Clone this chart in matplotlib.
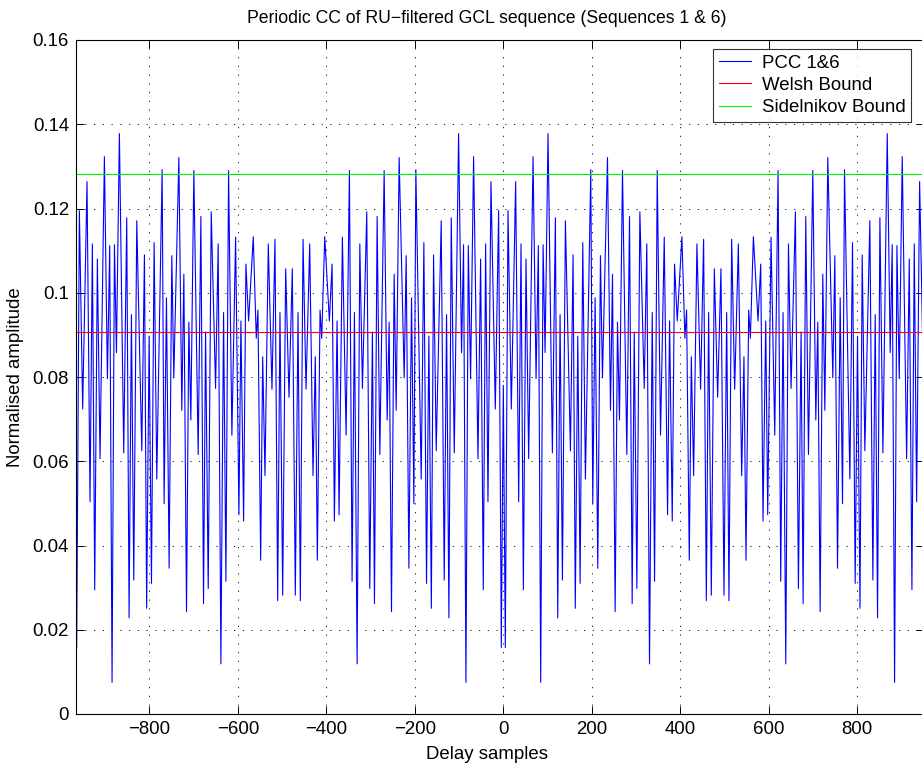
import numpy as np
import matplotlib
matplotlib.use('Agg')
import matplotlib.pyplot as plt

plt.rcParams['font.family'] = ['Liberation Sans', 'DejaVu Sans']
plt.rcParams['axes.unicode_minus'] = True

# periodic CC magnitude (peaks / troughs) for lags 0 .. N/2
# the curve is symmetric about 0 and about N/2, so the rest is mirrored
N = 969
half_lag = [0, 4.5, 10.6, 18.1, 27.9, 34.7, 40, 45.3, 51.3, 57.3, 67.2, 74, 79.2, 84.5,
            89.9, 94.4, 101.1, 110.9, 117.7, 123, 128.3, 133.6, 140.4, 151.7, 157.7, 162.7,
            168.3, 173.6, 179.6, 185.6, 197.7, 202.2, 207.5, 213.5, 219.6, 224.1, 235.5,
            242.2, 246.8, 252.8, 258.1, 262.6, 269.4, 279.2, 285.3, 291.3, 295.9, 301.9,
            308.7, 318.5, 324.4, 330.5, 336.6, 341.9, 347.9, 355.4, 363.8, 371.3, 375.8,
            381.9, 387.1, 393.2, 403.7, 410.5, 414.3, 420.4, 425, 430.2, 437.7, 446, 452.8,
            458.9, 464.1, 470.2, 477, 484.5]
half_pcc = [0.078, 0.0158, 0.1195, 0.0724, 0.1264, 0.0504, 0.1116, 0.0295, 0.108, 0.0606,
            0.1323, 0.0796, 0.1112, 0.0075, 0.1114, 0.0858, 0.1378, 0.062, 0.1178, 0.0228,
            0.0948, 0.0318, 0.1171, 0.0625, 0.109, 0.0251, 0.0897, 0.031, 0.1119, 0.0558,
            0.1292, 0.0499, 0.0988, 0.0346, 0.1088, 0.0798, 0.1321, 0.0721, 0.1044, 0.0243,
            0.093, 0.0698, 0.129, 0.0616, 0.1181, 0.0262, 0.0907, 0.0298, 0.1192, 0.0773,
            0.1116, 0.0119, 0.0953, 0.0315, 0.129, 0.0662, 0.1132, 0.0473, 0.0933, 0.0458,
            0.1068, 0.0933, 0.1133, 0.0892, 0.0959, 0.0365, 0.0848, 0.0566, 0.1116, 0.0771,
            0.1127, 0.0269, 0.0953, 0.0282, 0.1057, 0.0752]
welsh = 0.0907
sidelnikov = 0.1283

xticks = [-800, -600, -400, -200, 0, 200, 400, 600, 800]
yticks = [0, 0.02, 0.04, 0.06, 0.08, 0.1, 0.12, 0.14, 0.16]
ylabels = ['0', '0.02', '0.04', '0.06', '0.08', '0.1', '0.12', '0.14', '0.16']

hl = np.array(half_lag)
hv = np.array(half_pcc)
pos_lag = np.concatenate([hl, N - hl[::-1][1:]])
pos_val = np.concatenate([hv, hv[::-1][1:]])
lag = np.concatenate([-pos_lag[::-1][:-1], pos_lag])
pcc = np.concatenate([pos_val[::-1][:-1], pos_val])

fs = 13.4
fig = plt.figure(figsize=(9.22, 7.64), dpi=100)
ax = fig.add_axes([76/922, 50/764, 848/922, 674/764])

ax.plot(lag, pcc, color='#0000ff', lw=0.8, label='PCC 1&6')
ax.axhline(welsh, color='#ff0000', lw=0.8, label='Welsh Bound')
ax.axhline(sidelnikov, color='#00ee00', lw=0.8, label='Sidelnikov Bound')

ax.set_xlim(-966, 951)
ax.set_ylim(0, 0.16)
ax.set_xticks(xticks)
ax.set_yticks(yticks)
ax.set_yticklabels(ylabels)
ax.tick_params(direction='in', top=True, right=True, length=6, width=0.7,
               labelsize=fs, pad=5)
ax.grid(True, color='black', linestyle=(0, (1.5, 9)), lw=0.6)
for sp in ax.spines.values():
    sp.set_linewidth(0.8)

# title / xlabel sit a bit left of the axes centre in the original
cx = (487 - 76) / 848
ax.set_title('Periodic CC of RU\u2212filtered GCL sequence (Sequences 1 & 6)',
             fontsize=12.7, pad=12, x=cx)
ax.set_xlabel('Delay samples', fontsize=fs)
ax.xaxis.set_label_coords(cx, -0.047)
ax.set_ylabel('Normalised amplitude', fontsize=fs, labelpad=6)

leg = ax.legend(loc='upper right', bbox_to_anchor=(835/848, 1 - 9/674),
                fontsize=fs, frameon=True, fancybox=False, borderaxespad=0,
                handlelength=1.7, handletextpad=0.6, labelspacing=0.28,
                borderpad=0.3)
leg.get_frame().set_edgecolor('black')
leg.get_frame().set_linewidth(0.8)

fig.savefig('out.png', dpi=100)
